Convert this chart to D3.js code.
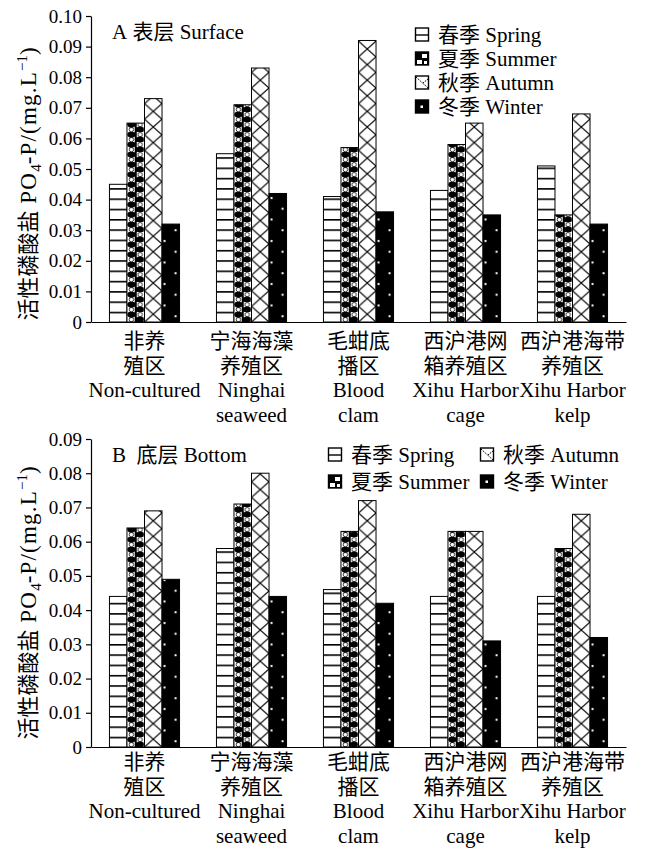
<!DOCTYPE html>
<html>
<head>
<meta charset="utf-8">
<script src="https://cdn.jsdelivr.net/npm/d3@7/dist/d3.min.js"></script>
<style>
  body { margin: 0; background: #fff; }
  svg text { font-family: "Liberation Serif", "Tinos", "Times New Roman", "DejaVu Serif", "Noto Sans CJK SC", serif; fill: #000; }
</style>
</head>
<body>
<div id="chart"></div>
<script>
// ---- data ----
const siteLines = [
  ['非养', '殖区', 'Non-cultured'],
  ['宁海海藻', '养殖区', 'Ninghai', 'seaweed'],
  ['毛蚶底', '播区', 'Blood', 'clam'],
  ['西沪港网', '箱养殖区', 'Xihu Harbor', 'cage'],
  ['西沪港海带', '养殖区', 'Xihu Harbor', 'kelp']
];
const sites = siteLines.map((d, i) => 's' + i);
const seasonKeys = ['spring', 'summer', 'autumn', 'winter'];
const seasonLabels = ['春季 Spring', '夏季 Summer', '秋季 Autumn', '冬季 Winter'];

const surfSpring = [0.045, 0.055, 0.041, 0.043, 0.051];
const surfSummer = [0.065, 0.071, 0.057, 0.058, 0.035];
const surfAutumn = [0.073, 0.083, 0.092, 0.065, 0.068];
const surfWinter = [0.032, 0.042, 0.036, 0.035, 0.032];

const botSpring = [0.044, 0.058, 0.046, 0.044, 0.044];
const botSummer = [0.064, 0.071, 0.063, 0.063, 0.058];
const botAutumn = [0.069, 0.080, 0.072, 0.063, 0.068];
const botWinter = [0.049, 0.044, 0.042, 0.031, 0.032];

const surfTicks = [0, 0.01, 0.02, 0.03, 0.04, 0.05, 0.06, 0.07, 0.08, 0.09, 0.10];
const botTicks = [0, 0.01, 0.02, 0.03, 0.04, 0.05, 0.06, 0.07, 0.08, 0.09];

const width = 651, height = 848;
const svg = d3.select('#chart').append('svg')
  .attr('width', width).attr('height', height)
  .attr('viewBox', `0 0 ${width} ${height}`);
const defs = svg.append('defs');

const left = 91, right = 626;
const xg = d3.scaleBand().domain(sites).range([left, right]).paddingInner(0.345).paddingOuter(0.1725);
const xs = d3.scaleBand().domain(seasonKeys).range([0, xg.bandwidth()]);

// legend slots: panel A one column, panel B two columns
const legA = [[415, 35], [415, 59], [415, 83], [415, 107]];
const legB = [[328, 455], [328, 482], [480, 455], [480, 482]];

const panels = [
  { id: 'a', title: 'A\u00a0表层 Surface', titleY: 39, max: 0.10, top: 16, base: 322, ticks: surfTicks,
    values: [surfSpring, surfSummer, surfAutumn, surfWinter], labelY: 348, ylabCenter: 184, leg: legA },
  { id: 'b', title: 'B\u00a0\u00a0底层 Bottom', titleY: 462, max: 0.09, top: 439, base: 747, ticks: botTicks,
    values: [botSpring, botSummer, botAutumn, botWinter], labelY: 769, ylabCenter: 603, leg: legB }
];

// build a fill pattern anchored at (px, py)
function makePattern(id, season, px, py, w) {
  const p = defs.append('pattern').attr('id', id)
    .attr('patternUnits', 'userSpaceOnUse').attr('x', px).attr('y', py).attr('width', w);
  if (season === 'spring') {
    p.attr('height', 10.3);
    p.append('rect').attr('width', w).attr('height', 10.3).attr('fill', '#fff');
    p.append('rect').attr('y', 0).attr('width', w).attr('height', 1.6).attr('fill', '#000');
  } else if (season === 'summer') {
    p.attr('height', 10);
    p.append('rect').attr('width', w).attr('height', 10).attr('fill', '#fff');
    p.append('rect').attr('x', w / 2 - 1).attr('width', 2).attr('height', 10).attr('fill', '#000');
    p.append('ellipse').attr('cx', w / 4).attr('cy', 2.6).attr('rx', w / 4 - 0.3).attr('ry', 3.1).attr('fill', '#000');
    p.append('ellipse').attr('cx', 3 * w / 4).attr('cy', 7.6).attr('rx', w / 4 - 0.3).attr('ry', 3.1).attr('fill', '#000');
    p.append('circle').attr('cx', w / 4).attr('cy', 7.6).attr('r', 2.2).attr('fill', 'none')
      .attr('stroke', '#000').attr('stroke-width', 0.8);
    p.append('circle').attr('cx', 3 * w / 4).attr('cy', 2.6).attr('r', 2.2).attr('fill', 'none')
      .attr('stroke', '#000').attr('stroke-width', 0.8);
  } else if (season === 'autumn') {
    const h = 15.6;
    p.attr('height', h);
    p.append('rect').attr('width', w).attr('height', h).attr('fill', '#fff');
    p.append('path').attr('d', `M0,0L${w},${h}M${w},0L0,${h}`)
      .attr('stroke', '#000').attr('stroke-width', 1.2).attr('fill', 'none');
  } else {
    const h = 21.5;
    p.attr('height', h);
    p.append('rect').attr('width', w).attr('height', h).attr('fill', '#000');
    p.append('rect').attr('x', 1.5).attr('y', 4).attr('width', 2).attr('height', 2).attr('fill', '#fff');
    p.append('rect').attr('x', w - 5).attr('y', 14.75).attr('width', 2).attr('height', 2).attr('fill', '#fff');
  }
}

panels.forEach(pn => {
  const g = svg.append('g').attr('class', 'panel-' + pn.id);
  const y = d3.scaleLinear().domain([0, pn.max]).range([pn.base, pn.top]);

  // bars
  const rows = [];
  sites.forEach((s, si) => seasonKeys.forEach((k, ki) => {
    rows.push({ site: s, si, season: k, value: pn.values[ki][si] });
  }));
  rows.forEach(d => {
    d.x = xg(d.site) + xs(d.season);
    d.pid = `pat-${pn.id}-${d.si}-${d.season}`;
    makePattern(d.pid, d.season, d.x, pn.base, xs.bandwidth());
  });
  g.selectAll('rect.bar').data(rows).join('rect').attr('class', 'bar')
    .attr('x', d => d.x)
    .attr('y', d => y(d.value))
    .attr('width', xs.bandwidth())
    .attr('height', d => pn.base - y(d.value))
    .attr('fill', d => `url(#${d.pid})`)
    .attr('stroke', '#000').attr('stroke-width', 1);

  // y axis
  const yAxis = g.append('g').attr('transform', `translate(${left},0)`)
    .call(d3.axisLeft(y).tickValues(pn.ticks).tickSize(5).tickSizeOuter(0).tickPadding(4)
      .tickFormat(d => d === 0 ? '0' : d.toFixed(2)));
  yAxis.attr('font-family', null).attr('font-size', null);
  yAxis.selectAll('text').style('font-size', '19px').attr('fill', '#000');
  yAxis.selectAll('path, line').attr('stroke', '#000').attr('stroke-width', 1.2);

  // x axis (baseline only)
  const xAxis = g.append('g').attr('transform', `translate(0,${pn.base})`)
    .call(d3.axisBottom(xg).tickSize(0).tickFormat(''));
  xAxis.select('path').attr('stroke', '#000').attr('stroke-width', 1.2);

  // x labels
  const lab = g.selectAll('text.xlab').data(sites).join('text').attr('class', 'xlab')
    .attr('text-anchor', 'middle').style('font-size', '21px');
  lab.each(function (s, i) {
    const t = d3.select(this);
    siteLines[i].forEach((line, li) => {
      t.append('tspan').attr('x', xg(s) + xg.bandwidth() / 2)
        .attr('y', pn.labelY + li * 24.5).text(line);
    });
  });

  // y label (CJK part tight, latin part a bit larger)
  const yl = g.append('text')
    .attr('transform', `translate(36,${pn.ylabCenter}) rotate(-90)`)
    .attr('text-anchor', 'middle').style('font-size', '22px');
  yl.append('tspan').text('活性磷酸盐');
  yl.append('tspan').style('font-size', '23px').style('letter-spacing', '1.2px').text(' PO');
  yl.append('tspan').style('font-size', '15px').attr('dy', 5).text('4');
  yl.append('tspan').style('font-size', '23px').style('letter-spacing', '1.2px').attr('dy', -5).text('-P/(mg.L');
  yl.append('tspan').style('font-size', '15px').attr('dy', -9).text('−1');
  yl.append('tspan').style('font-size', '23px').attr('dy', 9).text(')');

  // title
  g.append('text').attr('x', 112).attr('y', pn.titleY)
    .style('font-size', '21px').text(pn.title);

  // legend
  const lg = g.selectAll('g.leg').data(seasonKeys).join('g').attr('class', 'leg')
    .attr('transform', (d, i) => `translate(${pn.leg[i][0]},${pn.leg[i][1]})`);
  lg.each(function (k, i) {
    const e = d3.select(this);
    const s = 14;
    const box = e.append('rect').attr('x', 0.5).attr('y', -s / 2).attr('width', s - 1).attr('height', s - 1)
      .attr('stroke', '#000').attr('stroke-width', 1.4);
    if (k === 'spring') {
      box.attr('fill', '#fff');
      e.append('line').attr('x1', 0.5).attr('x2', s - 0.5).attr('y1', 0).attr('y2', 0)
        .attr('stroke', '#000').attr('stroke-width', 1.4);
    } else if (k === 'summer') {
      box.attr('fill', '#000');
      e.append('rect').attr('x', 7).attr('y', -s / 2 + 2).attr('width', 5).attr('height', 4).attr('fill', '#fff');
      e.append('rect').attr('x', 2).attr('y', 1).attr('width', 5).attr('height', 4).attr('fill', '#fff');
      e.append('rect').attr('x', 9).attr('y', 2).attr('width', 3).attr('height', 3).attr('fill', '#fff');
    } else if (k === 'autumn') {
      box.attr('fill', '#fff');
      e.append('path').attr('d', `M1,${-s / 2 + 1}L${s - 1},${s / 2 - 2}M${s - 1},${-s / 2 + 3}L${s / 2 + 1},0`)
        .attr('stroke', '#000').attr('stroke-width', 1).attr('stroke-dasharray', '1.5,1');
    } else {
      box.attr('fill', '#000');
      e.append('rect').attr('x', s / 2 - 1.5).attr('y', -1.5).attr('width', 2.5).attr('height', 2.5).attr('fill', '#fff');
    }
    e.append('text').attr('x', 23).attr('y', 7).style('font-size', '21px')
      .text(seasonLabels[i]);
  });
});
</script>
</body>
</html>
